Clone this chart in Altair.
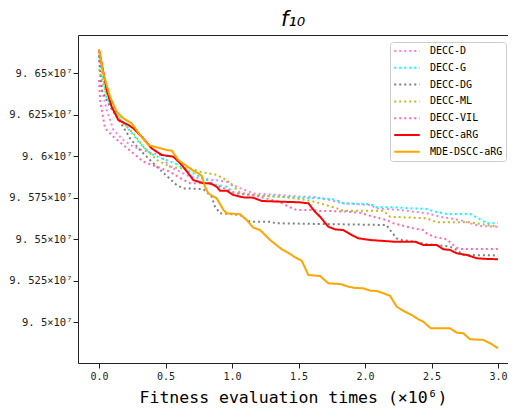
import altair as alt
import pandas as pd

names = ["DECC-D", "DECC-G", "DECC-DG", "DECC-ML", "DECC-VIL", "DECC-aRG", "MDE-DSCC-aRG"]
colors = ["#ee82ee", "#00ffff", "#808080", "#bcbd22", "#ff69b4", "#ff0000", "#ffa500"]

d_x = [0.0, 0.023, 0.058, 0.108, 0.183, 0.258, 0.359, 0.459, 0.534, 0.609, 0.684, 0.960, 1.035, 1.160, 1.361, 1.511, 1.611, 1.737, 1.837, 2.038, 2.088, 2.263, 2.464, 2.564, 2.714, 2.789, 2.865, 3.0]
d_y = [9.6578, 9.6398, 9.6277, 9.6157, 9.6096, 9.6056, 9.6026, 9.6006, 9.5936, 9.5905, 9.5875, 9.5845, 9.5815, 9.5775, 9.5765, 9.5755, 9.5755, 9.5735, 9.5715, 9.5705, 9.5685, 9.5675, 9.5655, 9.5634, 9.5614, 9.5595, 9.5578, 9.5574]

g_x = [0.0, 0.058, 0.120, 0.208, 0.308, 0.383, 0.471, 0.571, 0.659, 0.759, 0.885, 0.960, 1.010, 1.111, 1.361, 1.511, 1.662, 1.774, 1.837, 2.038, 2.088, 2.213, 2.338, 2.464, 2.526, 2.614, 2.789, 2.852, 2.915, 3.0]
g_y = [9.6600, 9.6348, 9.6267, 9.6177, 9.6076, 9.6016, 9.5986, 9.5956, 9.5916, 9.5875, 9.5825, 9.5815, 9.5779, 9.5765, 9.5755, 9.5749, 9.5745, 9.5739, 9.5715, 9.5711, 9.5691, 9.5691, 9.5685, 9.5681, 9.5665, 9.5651, 9.5651, 9.5625, 9.5595, 9.5595]

dg_x = [0.0, 0.020, 0.083, 0.158, 0.233, 0.308, 0.371, 0.434, 0.509, 0.584, 0.634, 0.784, 0.847, 0.872, 0.910, 1.060, 1.135, 1.298, 1.323, 2.163, 2.188, 2.238, 2.276, 2.376, 2.451, 2.539, 2.639, 2.689, 2.739, 3.0]
dg_y = [9.6608, 9.6398, 9.6297, 9.6207, 9.6107, 9.6036, 9.5986, 9.5936, 9.5880, 9.5825, 9.5805, 9.5801, 9.5755, 9.5695, 9.5655, 9.5645, 9.5604, 9.5604, 9.5595, 9.5584, 9.5554, 9.5504, 9.5494, 9.5484, 9.5470, 9.5464, 9.5454, 9.5434, 9.5404, 9.5401]

ml_x = [0.0, 0.045, 0.108, 0.183, 0.258, 0.333, 0.434, 0.534, 0.609, 0.684, 0.759, 0.885, 0.960, 0.985, 1.060, 1.160, 1.411, 1.562, 1.662, 1.787, 1.837, 2.138, 2.188, 2.464, 2.539, 2.789, 2.865, 3.0]
ml_y = [9.6524, 9.6398, 9.6277, 9.6197, 9.6137, 9.6056, 9.5976, 9.5936, 9.5926, 9.5926, 9.5905, 9.5886, 9.5855, 9.5836, 9.5779, 9.5765, 9.5751, 9.5735, 9.5715, 9.5685, 9.5670, 9.5670, 9.5634, 9.5625, 9.5601, 9.5601, 9.5591, 9.5574]

vil_x = [0.0, 0.008, 0.045, 0.108, 0.183, 0.258, 0.333, 0.434, 0.534, 0.609, 0.684, 0.810, 0.910, 1.035, 1.160, 1.361, 1.436, 1.486, 1.586, 1.662, 1.762, 1.862, 1.962, 2.063, 2.163, 2.213, 2.313, 2.363, 2.438, 2.464, 2.514, 2.614, 2.664, 2.702, 3.0]
vil_y = [9.6458, 9.6337, 9.6167, 9.6116, 9.6066, 9.6016, 9.5966, 9.5936, 9.5905, 9.5867, 9.5836, 9.5836, 9.5815, 9.5775, 9.5765, 9.5721, 9.5691, 9.5675, 9.5675, 9.5668, 9.5668, 9.5665, 9.5658, 9.5634, 9.5614, 9.5595, 9.5574, 9.5564, 9.5554, 9.5534, 9.5514, 9.5498, 9.5464, 9.5440, 9.5440]

arg_x = [0.0, 0.058, 0.095, 0.145, 0.220, 0.258, 0.321, 0.396, 0.471, 0.559, 0.622, 0.671, 0.709, 0.784, 0.835, 0.885, 0.910, 0.960, 1.010, 1.085, 1.160, 1.223, 1.361, 1.511, 1.574, 1.624, 1.662, 1.724, 1.774, 1.837, 1.900, 1.950, 2.038, 2.213, 2.376, 2.438, 2.539, 2.589, 2.639, 2.689, 2.764, 2.840, 2.915, 3.0]
arg_y = [9.6639, 9.6398, 9.6297, 9.6217, 9.6187, 9.6167, 9.6116, 9.6046, 9.6006, 9.5996, 9.5946, 9.5896, 9.5855, 9.5836, 9.5836, 9.5815, 9.5791, 9.5791, 9.5765, 9.5751, 9.5749, 9.5729, 9.5725, 9.5721, 9.5715, 9.5664, 9.5634, 9.5574, 9.5558, 9.5554, 9.5524, 9.5504, 9.5494, 9.5484, 9.5484, 9.5464, 9.5464, 9.5438, 9.5434, 9.5414, 9.5404, 9.5384, 9.5380, 9.5378]

mde_x = [0.0, 0.032, 0.083, 0.133, 0.183, 0.246, 0.308, 0.371, 0.434, 0.509, 0.547, 0.596, 0.659, 0.709, 0.747, 0.772, 0.797, 0.822, 0.885, 0.935, 0.960, 1.060, 1.111, 1.160, 1.211, 1.286, 1.374, 1.423, 1.474, 1.524, 1.574, 1.662, 1.724, 1.812, 1.874, 1.925, 1.987, 2.038, 2.088, 2.138, 2.188, 2.238, 2.301, 2.351, 2.401, 2.438, 2.494, 2.639, 2.689, 2.739, 2.789, 2.889, 2.940, 3.0]
mde_y = [9.6643, 9.6498, 9.6357, 9.6267, 9.6227, 9.6197, 9.6127, 9.6066, 9.6052, 9.6036, 9.6032, 9.5976, 9.5940, 9.5911, 9.5896, 9.5880, 9.5815, 9.5775, 9.5745, 9.5675, 9.5655, 9.5649, 9.5614, 9.5568, 9.5554, 9.5494, 9.5438, 9.5417, 9.5390, 9.5369, 9.5283, 9.5277, 9.5233, 9.5229, 9.5213, 9.5205, 9.5203, 9.5189, 9.5187, 9.5173, 9.5158, 9.5092, 9.5062, 9.5042, 9.5016, 9.5002, 9.4962, 9.4962, 9.4936, 9.4932, 9.4896, 9.4892, 9.4872, 9.4842]

x_ticks = [0.0, 0.5, 1.0, 1.5, 2.0, 2.5, 3.0]
y_ticks = [9.5, 9.525, 9.55, 9.575, 9.6, 9.625, 9.65]

series = [(d_x, d_y), (g_x, g_y), (dg_x, dg_y), (ml_x, ml_y), (vil_x, vil_y), (arg_x, arg_y), (mde_x, mde_y)]
rows = []
for i, (name, (xs, ys)) in enumerate(zip(names, series)):
    for j, (xv, yv) in enumerate(zip(xs, ys)):
        rows.append({"series": name, "idx": i, "step": j, "x": xv, "y": yv})
df = pd.DataFrame(rows)

dashes = [[2, 3]] * 5 + [[1, 0]] * 2

mono = "DejaVu Sans Mono"

chart = alt.Chart(df).mark_line(strokeWidth=2, strokeCap="butt").encode(
    x=alt.X("x:Q", scale=alt.Scale(domain=[-0.158, 3.075], nice=False, zero=False),
            axis=alt.Axis(values=x_ticks, format=".1f", title="Fitness evaluation times (×10⁶)",
                          titleFont=mono, titleFontSize=16.5, titleFontWeight="normal",
                          titlePadding=8)),
    y=alt.Y("y:Q", scale=alt.Scale(domain=[9.4753, 9.6729], nice=False, zero=False),
            axis=alt.Axis(values=y_ticks, labelExpr="replace(format(datum.value, '.3~f'), '.', '. ') + '×10⁷'",
                          title=None, labelFontSize=10.5, labelPadding=1)),
    color=alt.Color("series:N", scale=alt.Scale(domain=names, range=colors),
                    legend=alt.Legend(title=None, orient="none", legendX=312, legendY=7,
                                      symbolType="stroke", symbolSize=650, symbolStrokeWidth=2,
                                      labelFont=mono, labelFontSize=10, clipHeight=12, rowPadding=4.8,
                                      fillColor="white", strokeColor="#cccccc", padding=3,
                                      cornerRadius=3, labelLimit=200, labelOffset=9)),
    strokeDash=alt.StrokeDash("series:N", scale=alt.Scale(domain=names, range=dashes), legend=None),
    detail="idx:O",
    order="step:Q",
).properties(
    width=430, height=328,
    title=alt.Title("f₁₀", fontStyle="italic", fontSize=21, fontWeight="normal", font="DejaVu Sans", offset=5),
    autosize=alt.AutoSizeParams(type="none"),
    padding={"left": 70, "top": 27, "right": 0, "bottom": 44},
).configure_view(
    stroke="#222222", strokeWidth=1
).configure_axis(
    grid=False, domain=False, tickColor="#222222", tickSize=5,
    labelFont=mono, labelFontSize=10, labelColor="#222222", labelPadding=3
)

chart.save("out.html", embed_options={"renderer": "svg", "actions": False})
